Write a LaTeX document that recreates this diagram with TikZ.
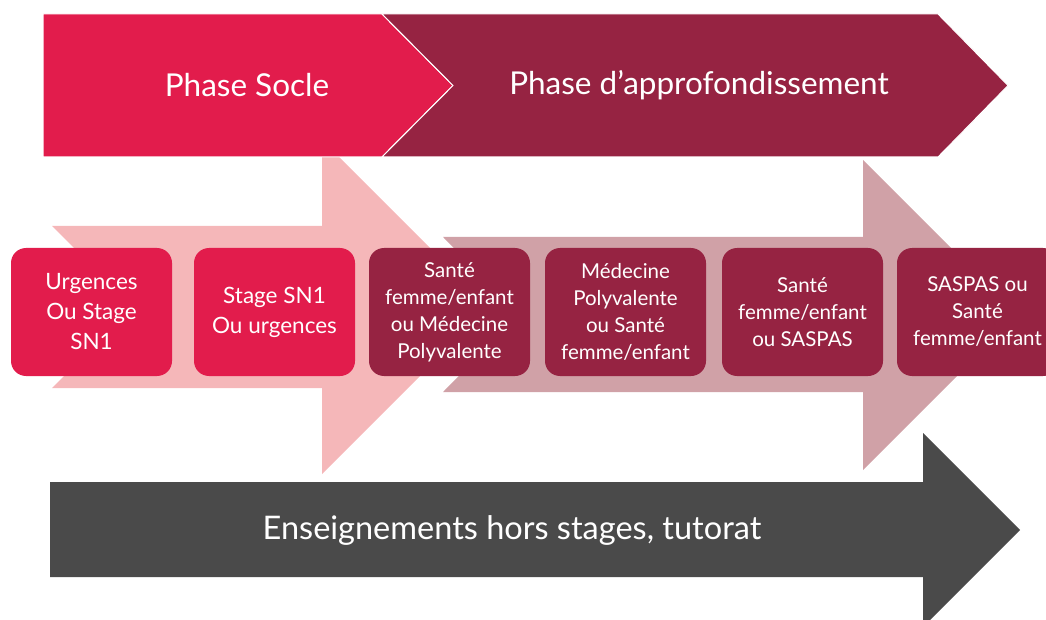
\documentclass[tikz,border=0pt]{standalone}
\usepackage{fontspec}
\setmainfont{Lato}
\definecolor{socle}{RGB}{226,28,76}
\definecolor{appro}{RGB}{150,35,66}
\definecolor{pinkarrow}{RGB}{245,183,185}
\definecolor{mauvearrow}{RGB}{208,161,167}
\definecolor{grayarrow}{RGB}{74,74,74}
\tikzset{
  phasetext/.style={text=white, font=\fontsize{31.5}{36}\selectfont, inner sep=0pt},
  phasewide/.style={phasetext, font=\fontsize{32.5}{36}\selectfont},
  stagebox/.style={rounded corners=15pt, minimum width=161pt, minimum height=128pt,
    text=white, align=center, inner sep=0pt, font=\fontsize{20.5}{27}\selectfont},
  stagebig/.style={stagebox, font=\fontsize{22.5}{30}\selectfont},
}
\begin{document}
\begin{tikzpicture}[x=1pt,y=-1pt]
\useasboundingbox (0,0) rectangle (1046,620);
\begin{scope}
\clip (0,0) rectangle (1046,620);
% light arrows
\fill[pinkarrow] (52,226) -- (322,226) -- (322,140) -- (489,307) -- (322,474) -- (322,388) -- (52,388) -- (133,307) -- cycle;
\fill[mauvearrow] (443,237) -- (863,237) -- (863,160) -- (1018,315) -- (863,470) -- (863,392) -- (443,392) -- (520,314.5) -- cycle;
% phase chevrons
\filldraw[socle, draw=white, line width=1pt] (43,14) -- (382,14) -- (453,85.5) -- (382,157) -- (43,157) -- cycle;
\filldraw[appro, draw=white, line width=1pt] (382,14) -- (938,14) -- (1008,85.5) -- (938,157) -- (382,157) -- (453,85.5) -- cycle;
\node[phasetext] (socle) at (247,85) {Phase Socle};
\node[phasetext] (appro) at (699,85) {Phase d’approfondissement};
% gray arrow
\fill[grayarrow] (50,482) -- (923,482) -- (923,433) -- (1020,530) -- (923,627) -- (923,577) -- (50,577) -- cycle;
\node[phasewide] (ens) at (512,530) {Enseignements hors stages, tutorat};
% stage boxes
\node[stagebig, fill=socle] (s1) at (91.5,312) {Urgences\\Ou Stage\\SN1};
\node[stagebig, fill=socle] (s2) at (274.5,312) {Stage SN1\\Ou urgences};
\node[stagebox, fill=appro] (s3) at (449.5,312) {Santé\\femme/enfant\\ou Médecine\\Polyvalente};
\node[stagebox, fill=appro] (s4) at (625.5,312) {Médecine\\Polyvalente\\ou Santé\\femme/enfant};
\node[stagebox, fill=appro] (s5) at (802.5,312) {Santé\\femme/enfant\\ou SASPAS};
\node[stagebox, fill=appro] (s6) at (977.5,312) {SASPAS ou\\Santé\\femme/enfant};
\end{scope}
\end{tikzpicture}
\end{document}
